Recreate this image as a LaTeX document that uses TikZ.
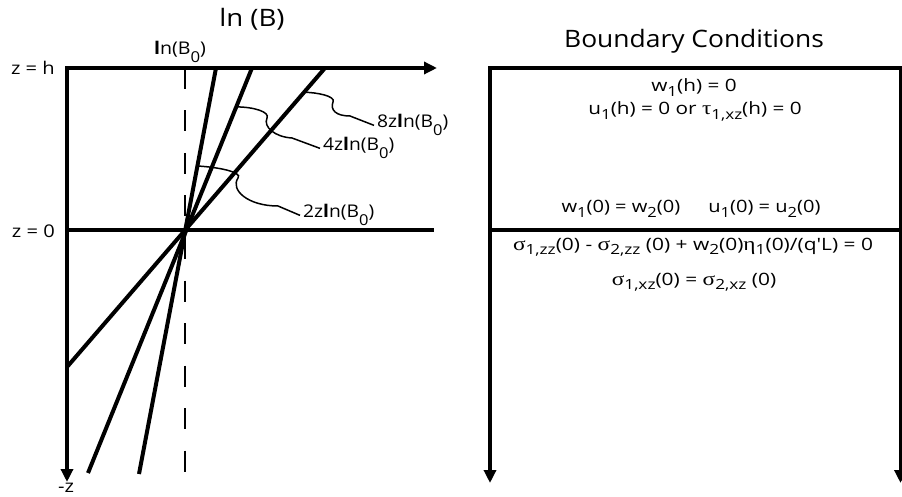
\documentclass[tikz,border=0pt]{standalone}
\usepackage{fontspec}
\usepackage{graphicx}
\setmainfont{Open Sans}
\newfontfamily\grk{Liberation Serif}
\usetikzlibrary{arrows.meta,calc}
\newcommand\lo[1]{\raisebox{-0.28em}{\fontsize{14}{14}\selectfont #1}}
\newcommand\loB[1]{\raisebox{-0.45em}{\fontsize{15}{15}\selectfont #1}}
\newcommand\gsig{{\grk\fontsize{19}{19}\selectfont σ}}
\newcommand\gtau{{\grk\fontsize{19}{19}\selectfont τ}}
\newcommand\geta{{\grk\fontsize{19}{19}\selectfont η}}
\newcommand\widen[2]{\scalebox{#1}[1]{#2}}
\begin{document}
\begin{tikzpicture}[x=1pt,y=-1pt,
  axis/.style={line width=4pt},
  tipa/.style={{Triangle[length=13pt,width=12pt]}-},
  tipb/.style={-{Triangle[length=13pt,width=12pt]}},
  tipab/.style={{Triangle[length=13pt,width=12pt]}-{Triangle[length=13pt,width=12pt]}},
  sq/.style={line width=1.5pt},
  lab/.style={font=\fontsize{17.5}{17.5}\selectfont, inner sep=0pt},
  eq/.style={font=\fontsize{17}{17}\selectfont, inner sep=0pt, anchor=base}]
\useasboundingbox (0,0) rectangle (902,497);
% ---------- left panel ----------
\coordinate (O) at (67,68);
\coordinate (xend) at (437,68);
\coordinate (zend) at (67,482);
\coordinate (z0L) at (67,230);
\coordinate (z0R) at (434,230);
\coordinate (piv) at (185,230);
\coordinate (dtop) at (185,68);
\coordinate (dbot) at (185,474);
\coordinate (t1) at (216,68);
\coordinate (b1) at (139,474);
\coordinate (t2) at (252,68);
\coordinate (b2) at (88,473);
\coordinate (t3) at (325,68);
\coordinate (b3) at (67,367);
\draw[axis, tipab] (xend) -- (O) -- (zend);
\draw[axis] (z0L) -- (z0R);
\draw[line width=2pt, dash pattern=on 21pt off 21.5pt] (dtop) -- (dbot);
\draw[axis] (b1) -- (t1);
\draw[axis] (b2) -- (t2);
\draw[axis] (b3) -- (t3);
% labels
\node[lab, anchor=base east] (zh) at (55,75) {\widen{1.15}{z = h}};
\node[lab, anchor=base east] (z0) at (55,237) {\widen{1.15}{z = 0}};
\node[lab, anchor=base] (mz) at (66,492) {\widen{1.15}{-z}};
\node[lab, anchor=base] (lnb0) at (180,55) {\widen{1.12}{\textbf{l}n(B\loB{0})}};
\node[font=\fontsize{24}{24}\selectfont, inner sep=0pt, anchor=base] (title1) at (252,27) {\widen{1.15}{ln (B)}};
\node[lab, anchor=base west] (l8) at (377,128) {\widen{1.1}{8z\textbf{l}n(B\loB{0})}};
\node[lab, anchor=base west] (l4) at (323,151) {\widen{1.1}{4z\textbf{l}n(B\loB{0})}};
\node[lab, anchor=base west] (l2) at (303,218) {\widen{1.1}{2z\textbf{l}n(B\loB{0})}};
% squiggles
\coordinate (s3) at ($(piv)!0.85!(t3)$);
\coordinate (s2) at ($(piv)!0.76!(t2)$);
\coordinate (s1) at ($(piv)!0.395!(t1)$);
\draw[sq] (s3) .. controls +(12,0) and +(3,-6) .. (333,102)
  .. controls +(-3,8) and +(-14,0) .. (350,116) -- ([xshift=-3pt]l8.west);
\draw[sq] (s2) .. controls +(18,0) and +(3,-6) .. (267,118)
  .. controls +(-4,9) and +(-17,-1) .. (292,138) -- ([xshift=-3pt]l4.west);
\draw[sq] (s1) .. controls +(20,1) and +(5,-6) .. (238,178)
  .. controls +(-8,12) and +(-30,0) .. (278,206) -- ([xshift=-3pt]l2.west);
% ---------- right panel ----------
\coordinate (RBL) at (490,483);
\coordinate (RTL) at (490,68);
\coordinate (RTR) at (905,68);
\coordinate (RRt) at (900.5,68);
\coordinate (RRb) at (900.5,483);
\coordinate (RML) at (490,230);
\coordinate (RMR) at (905,230);
\draw[axis, tipa] (RBL) -- (RTL) -- (RTR);
\draw[axis, tipb] (RRt) -- (RRb);
\draw[axis] (RML) -- (RMR);
\node[font=\fontsize{24}{24}\selectfont, inner sep=0pt, anchor=base] (title2) at (694,48) {\widen{1.1}{Boundary Conditions}};
\node[eq] (e1) at (694,92) {\widen{1.22}{w\lo{1}(h) = 0}};
\node[eq] (e2) at (695,115) {\widen{1.22}{u\lo{1}(h) = 0 or \gtau\lo{1,xz}(h) = 0}};
\node[eq] (e3) at (691,213) {\widen{1.18}{w\lo{1}(0) = w\lo{2}(0)\hspace{1.4em}u\lo{1}(0) = u\lo{2}(0)}};
\node[eq] (e4) at (693,250) {\widen{1.23}{\gsig\lo{1,zz}(0) - \gsig\lo{2,zz} (0) + w\lo{2}(0)\geta\lo{1}(0)/(q\textquotesingle L) = 0}};
\node[eq] (e5) at (694,285) {\widen{1.23}{\gsig\lo{1,xz}(0) = \gsig\lo{2,xz} (0)}};
\end{tikzpicture}
\end{document}
